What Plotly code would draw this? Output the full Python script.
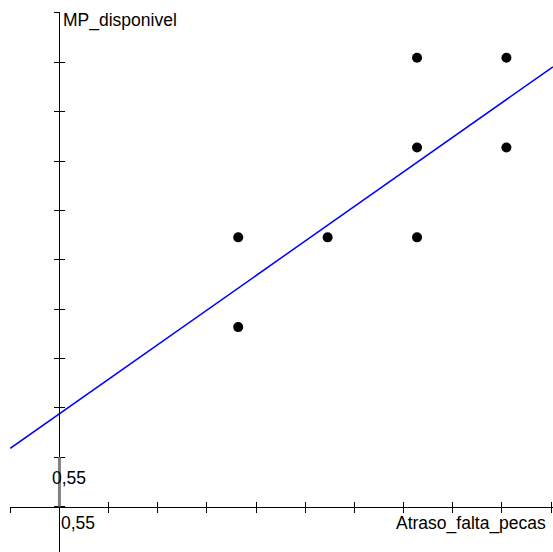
import plotly.graph_objects as go

# Data
x_vals = [2, 2, 3, 4, 4, 4, 5, 5]
y_vals = [2, 3, 3, 3, 4, 5, 4, 5]
fit_intercept = 1.035   # regression line as drawn in the reference
fit_slope = 0.70
tick_step = 0.55
x_title = "Atraso_falta_pecas"
y_title = "MP_disponivel"
unit_label = "0,55"

x_range = [-0.553, 5.521]
y_range = [-0.505, 5.51]

line_x = [-0.55, 5.52]
line_y = [fit_intercept + fit_slope * v for v in line_x]

xpos = (0 - y_range[0]) / (y_range[1] - y_range[0])
ypos = (0 - x_range[0]) / (x_range[1] - x_range[0])

fig = go.Figure()
fig.add_trace(go.Scatter(x=line_x, y=line_y, mode="lines",
                         line=dict(color="#0000ff", width=1.5), hoverinfo="skip"))
fig.add_trace(go.Scatter(x=x_vals, y=y_vals, mode="markers",
                         marker=dict(color="black", size=10, line=dict(width=0))))
# dummy trace for overlay axes
fig.add_trace(go.Scatter(x=[None], y=[None], xaxis="x2", yaxis="y2", mode="markers"))

axis_common = dict(showgrid=False, zeroline=False, showticklabels=False,
                   showline=True, linecolor="black", linewidth=1,
                   tickcolor="black", tickwidth=1, ticklen=5,
                   tick0=0, dtick=tick_step, anchor="free")

fig.update_layout(
    width=553, height=552,
    margin=dict(l=10, r=0, t=12, b=0),
    paper_bgcolor="white", plot_bgcolor="white",
    showlegend=False,
    font=dict(family="Liberation Sans, Arial", size=17.5, color="black"),
    xaxis=dict(range=x_range, ticks="outside", position=xpos, **axis_common),
    yaxis=dict(range=y_range, ticks="outside", position=ypos, **axis_common),
    xaxis2=dict(range=x_range, ticks="inside", position=xpos, overlaying="x", **axis_common),
    yaxis2=dict(range=y_range, ticks="inside", position=ypos, overlaying="y", **axis_common),
)

fig.add_shape(type="line", x0=0, x1=0, y0=0, y1=tick_step, xref="x", yref="y",
              line=dict(color="#808080", width=3))

fig.add_annotation(x=0.02, y=5.41, text=y_title, showarrow=False,
                   xanchor="left", yanchor="middle", xref="x", yref="y")
fig.add_annotation(x=5.46, y=-0.19, text=x_title, showarrow=False,
                   xanchor="right", yanchor="middle", xref="x", yref="y")
fig.add_annotation(x=0.0, y=-0.18, text=unit_label, showarrow=False,
                   xanchor="left", yanchor="middle", xref="x", yref="y")
fig.add_annotation(x=-0.11, y=0.32, text=unit_label, showarrow=False,
                   xanchor="left", yanchor="middle", xref="x", yref="y")

fig.write_html("out.html")
